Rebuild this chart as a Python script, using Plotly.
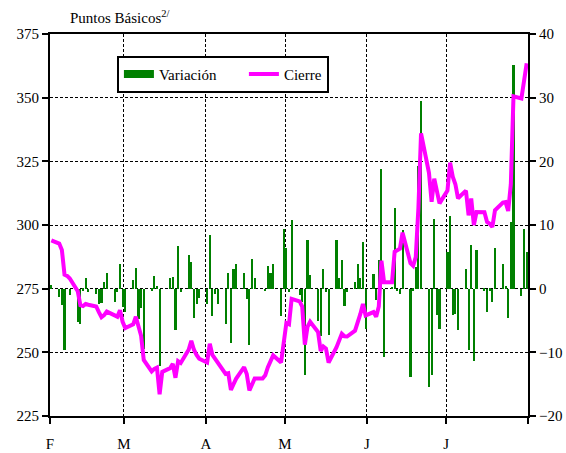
import pandas as pd
import plotly.graph_objects as go

# Trading days, Feb 1 - Jul 31 2002; each point sits in the middle of its day
fechas = pd.bdate_range("2002-02-01", "2002-07-31") + pd.Timedelta(hours=12)

# Closing spread (basis points, left axis)
cierre_feb = [294, 292.7, 290.2, 280.5, 280, 279, 274, 268.5, 268.2, 269, 268.7,
              268, 265.8, 263.8, 264.6, 266, 264.5, 264, 266.5, 262]
cierre_mar = [259.5, 261, 264, 259.5, 256.5, 247, 242.5, 243.5, 244, 233.5, 242.3,
              243.8, 245.5, 240, 246.5, 245.8, 251, 254.5, 251, 249, 247.5]
cierre_abr = [246, 253.4, 249, 247.5, 245.5, 241.5, 241.8, 235.2, 237.5, 239.7, 244.2,
              241.5, 235, 237.8, 239.7, 239.7, 241, 244.2, 246.5, 248.8, 246, 255]
cierre_may = [261.5, 261, 271, 270, 268, 253, 260, 262, 258, 250.5, 252.3, 251.5,
              246, 252, 254.5, 257.3, 256.3, 256.2, 258.5, 261.5, 265, 269, 264.5]
cierre_jun = [265.8, 264, 268, 286, 277.5, 277.5, 289.5, 290.3, 290.7, 297, 285,
              284, 287.4, 306.6, 336, 320.5, 309.1, 318.2, 314, 308.5]
cierre_jul = [313.5, 324.5, 319, 316, 310.5, 313.5, 303.8, 310.4, 300, 305.1, 305,
              301.2, 300.5, 299.2, 305.8, 308.8, 309, 305.5, 316, 350.5, 349.7, 358, 363.5]

# Daily change (basis points, right axis)
var_feb = [0.6, -1.3, -2.6, -9.7, 0, -1.0, -5.2, -5.5, -0.3, 1.6, -0.5,
           -0.8, -2.4, -2.2, 1.0, 2.5, -2.1, -0.5, 3.8, -2.9]
var_mar = [-3.7, 1.3, 3.2, -4.7, -3.0, -9.5, -0.3, 2.0, 0.4, -12.2, 0,
           1.7, 1.9, -6.5, 6.7, -0.5, 5.3, 4.2, -4.6, -2.4, -1.5]
var_abr = [-2.4, 8.5, -4.3, -0.8, -2.4, -5.5, 2.5, -8.6, 3.1, 3.8, 2.5,
           -1.7, -8.9, 4.7, 1.6, 0, -0.4, 3.5, 2.5, 3.8, -4.3, 9.4]
var_may = [6.4, -0.5, 10.8, -1.0, -2.1, -13.6, 7.6, 2.1, -5.0, -7.5, 3.1, -0.5,
           -7.2, 7.6, 1.6, 4.5, -2.8, -0.5, 1.0, 3.8, 1.6, 7.3, -6.4]
var_jun = [2.3, -1.8, 4.5, 18.8, -10.8, 0.3, 12.6, -0.4, -0.8, 9.2, -13.8,
           -0.3, 3.4, 19.2, 29.4, -15.4, -13.6, 11, -4.2, -6.4]
var_jul = [5.8, 11.4, -4.2, -3.9, -6.5, 3.1, -9.7, 6.9, -11.3, 6.0, -0.3,
           -3.7, -0.3, -2.1, 6.4, 3.8, 0.4, -4.6, 10.5, 35.2, -1.1, 9.4, 5.8]

cierre = cierre_feb + cierre_mar + cierre_abr + cierre_may + cierre_jun + cierre_jul
variacion = var_feb + var_mar + var_abr + var_may + var_jun + var_jul

mes_ticks = ["2002-02-01", "2002-03-01", "2002-04-01", "2002-05-01",
             "2002-06-01", "2002-07-01"]
mes_labels = ["F", "M", "A", "M", "J", "J"]
fin_eje = "2002-08-01"

FONT = "Liberation Serif, Times New Roman, serif"
FS = 15
DIA_MS = 86400000
GAP = "\u00a0" * 6  # extra room after the first legend entry

fig = go.Figure()
fig.add_trace(go.Bar(
    x=fechas, y=variacion, name="Variación", yaxis="y",
    marker=dict(color="#008000", line=dict(width=0)),
    width=0.8 * DIA_MS, showlegend=False,
))
# legend swatch for the bars (wide green band)
fig.add_trace(go.Scatter(
    x=[None], y=[None], mode="lines", name="Variación" + GAP, yaxis="y",
    line=dict(color="#008000", width=8),
))
fig.add_trace(go.Scatter(
    x=fechas, y=cierre, mode="lines", name="Cierre", yaxis="y2",
    line=dict(color="#FF00FF", width=4),
))

grid = dict(showgrid=True, gridcolor="black", gridwidth=1, griddash="3px,2px")
axis_common = dict(showline=True, linecolor="black", linewidth=2, automargin=False,
                   ticks="outside", ticklen=6, tickwidth=2, tickcolor="black",
                   tickfont=dict(family=FONT, size=FS, color="black"))

fig.update_layout(
    width=566, height=453,
    margin=dict(l=50, r=38, t=34, b=37, autoexpand=False),
    paper_bgcolor="white", plot_bgcolor="white",
    font=dict(family=FONT, size=FS, color="black"),
    bargap=0,
    xaxis=dict(type="date", range=["2002-02-01", fin_eje],
               tickmode="array", tickvals=mes_ticks, ticktext=mes_labels,
               minor=dict(tickmode="array", tickvals=[fin_eje], ticks="outside",
                          ticklen=6, tickwidth=2, tickcolor="black", showgrid=False),
               mirror=True, ticklabelstandoff=7, **grid, **axis_common),
    yaxis=dict(side="right", range=[-20, 40], dtick=10, zeroline=False,
               **grid, **axis_common),
    yaxis2=dict(side="left", overlaying="y", range=[225, 375], dtick=25,
                showgrid=False, zeroline=False, **axis_common),
    legend=dict(orientation="h", x=0.14, y=0.943, xanchor="left", yanchor="top",
                bgcolor="white", bordercolor="black", borderwidth=2,
                font=dict(family=FONT, size=FS, color="black"),
                itemwidth=30, tracegroupgap=0),
    annotations=[dict(text="Puntos Básicos<sup>2/</sup>", xref="paper", yref="paper",
                      x=0.037, y=1.045, xanchor="left", yanchor="middle",
                      showarrow=False, font=dict(family=FONT, size=FS, color="black"))],
)

fig.write_html("out.html")
